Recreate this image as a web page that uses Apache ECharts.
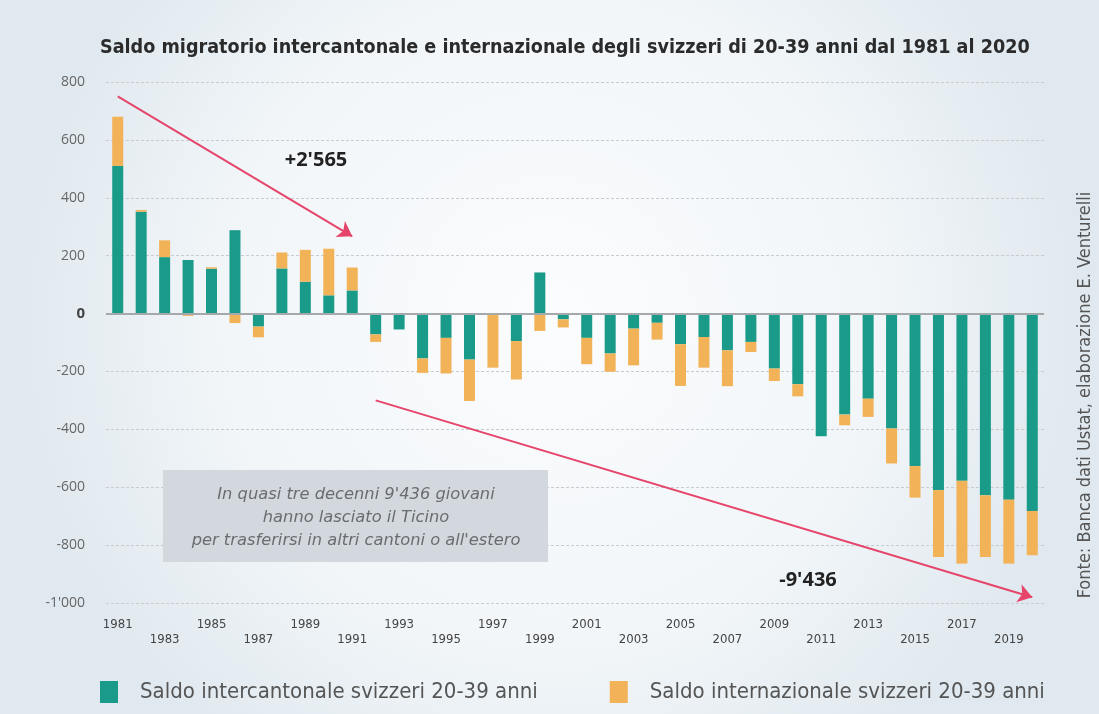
<!DOCTYPE html>
<html>
<head>
<meta charset="utf-8">
<script src="https://cdn.jsdelivr.net/npm/echarts@6/dist/echarts.min.js"></script>
<style>html,body{margin:0;padding:0;}#c{width:1099px;height:714px;}</style>
</head>
<body>
<div id="c"></div>
<script>
const years = ['1981','1982','1983','1984','1985','1986','1987','1988','1989','1990',
  '1991','1992','1993','1994','1995','1996','1997','1998','1999','2000',
  '2001','2002','2003','2004','2005','2006','2007','2008','2009','2010',
  '2011','2012','2013','2014','2015','2016','2017','2018','2019','2020'];
const intercantonale = [510,352,195,185,155,288,-45,156,110,63,
  80,-72,-55,-155,-84,-159,0,-95,142,-20,
  -84,-138,-52,-32,-106,-81,-127,-98,-190,-244,
  -424,-349,-294,-397,-527,-610,-578,-628,-643,-682];
const internazionale = [170,6,58,-8,5,-33,-37,55,110,161,
  79,-26,0,-50,-123,-143,-187,-133,-60,-28,
  -91,-63,-127,-58,-144,-106,-124,-35,-43,-42,
  0,-37,-63,-121,-109,-231,-286,-213,-221,-153];
const seriesNames = ['Saldo intercantonale svizzeri 20-39 anni','Saldo internazionale svizzeri 20-39 anni'];
const arrowUp = [[0,750],[10,267]];
const arrowDown = [[11,-300],[39,-980]];

const chart = echarts.init(document.getElementById('c'));
const narrow = "'Liberation Sans Narrow','DejaVu Sans Condensed',sans-serif";
function fmt(v){
  if (v === 0) return '{z|0}';
  const s = Math.abs(v) >= 1000 ? (v<0?'-':'') + Math.floor(Math.abs(v)/1000) + "'" + String(Math.abs(v)%1000).padStart(3,'0') : String(v);
  return s;
}
chart.setOption({
  animation:false,
  backgroundColor:{type:'radial',x:0.5,y:0.45,r:0.75,colorStops:[{offset:0,color:'#fbfcfd'},{offset:0.6,color:'#f2f6f9'},{offset:1,color:'#e0e9ef'}]},
  title:{text:'Saldo migratorio intercantonale e internazionale degli svizzeri di 20-39 anni dal 1981 al 2020',
    left:95, top:33, textStyle:{fontFamily:narrow,fontWeight:'bold',fontSize:19.6,color:'#2b2b2b'}},
  grid:{left:106,right:55,top:82,bottom:111},
  legend:{left:95,top:676,itemWidth:18,itemHeight:22,itemGap:72,icon:'rect',
    textStyle:{fontFamily:narrow,fontSize:22,color:'#555',padding:[0,0,0,17]}},
  xAxis:{type:'category',data:years,
    axisLine:{show:false,onZero:false},axisTick:{show:false},
    axisLabel:{interval:1,margin:14,fontFamily:narrow,fontSize:13,color:'#444',lineHeight:15,
      formatter:(v,i)=> (i%4===0 ? v : '\n'+v)}},
  yAxis:{type:'value',min:-1000,max:800,interval:200,
    axisLine:{show:false},axisTick:{show:false},
    splitLine:{lineStyle:{type:[3,2],color:'#c8ccd0',width:1}},
    axisLabel:{margin:21,fontFamily:"'Open Sans',sans-serif",fontSize:14,color:'#666',formatter:fmt,
      rich:{z:{fontFamily:"'Open Sans',sans-serif",fontSize:15,fontWeight:'bold',color:'#444'}}}},
  series:[
    {name:seriesNames[0],type:'bar',stack:'tot',data:intercantonale,barWidth:11,
      itemStyle:{color:'#1a9b89'},
      markLine:{silent:true,symbol:['none','arrow'],symbolSize:14,
        lineStyle:{type:'solid',color:'#e6456b',width:2},label:{show:false},emphasis:{disabled:true},
        data:[[{coord:arrowUp[0]},{coord:arrowUp[1]}],[{coord:arrowDown[0]},{coord:arrowDown[1]}]]}},
    {name:seriesNames[1],type:'bar',stack:'tot',data:internazionale,barWidth:11,
      itemStyle:{color:'#f2b257'},
      markLine:{silent:true,symbol:['none','none'],
        lineStyle:{type:'solid',color:'#a6a9ac',width:2},label:{show:false},emphasis:{disabled:true},
        data:[{yAxis:0}]}}
  ],
  graphic:[
    {type:'rect',shape:{x:163,y:470,width:385,height:92},style:{fill:'#d3d8de'},z:10},
    {type:'text',x:356,y:518,z:11,style:{text:"In quasi tre decenni 9'436 giovani\nhanno lasciato il Ticino\nper trasferirsi in altri cantoni o all'estero",
      align:'center',verticalAlign:'middle',fontFamily:"'DejaVu Sans',sans-serif",fontStyle:'italic',fontSize:16.3,lineHeight:23,fill:'#6a6d70'}},
    {type:'text',x:316,y:160,z:11,style:{text:"+2'565",align:'center',verticalAlign:'middle',fontFamily:"'Open Sans',sans-serif",fontWeight:'bold',fontSize:20,fill:'#222'}},
    {type:'text',x:808,y:580,z:11,style:{text:"-9'436",align:'center',verticalAlign:'middle',fontFamily:"'Open Sans',sans-serif",fontWeight:'bold',fontSize:20,fill:'#222'}},
    {type:'text',x:1085,y:395,rotation:Math.PI/2,z:11,style:{text:'Fonte: Banca dati Ustat, elaborazione E. Venturelli',align:'center',verticalAlign:'middle',fontFamily:narrow,fontSize:18,fill:'#555'}}
  ]
});
</script>
</body>
</html>
